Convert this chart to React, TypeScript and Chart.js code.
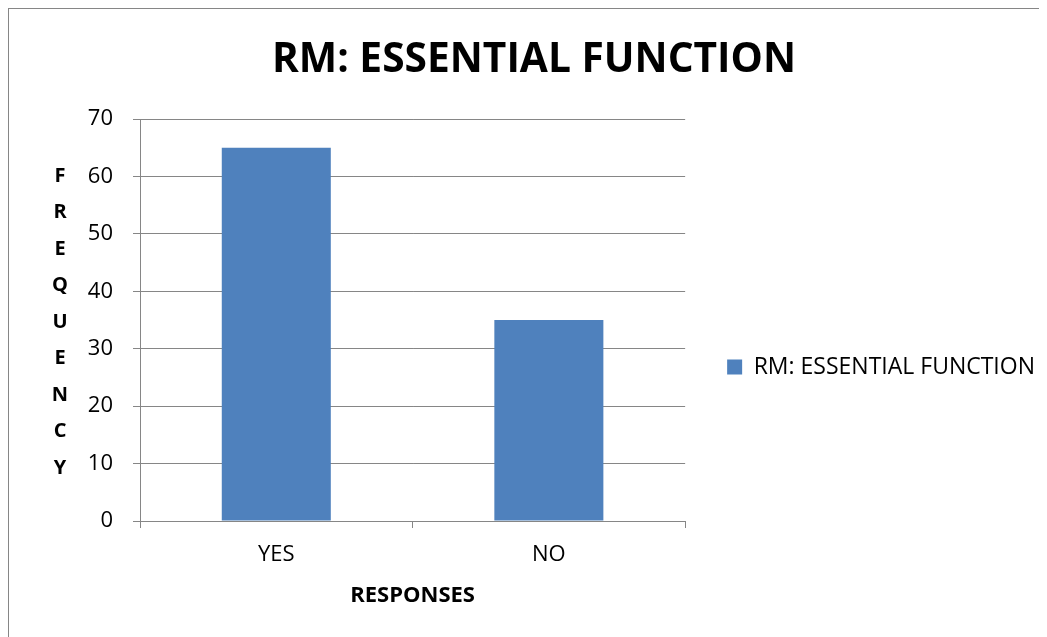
import React, { useEffect, useRef } from "react";
import { Chart, registerables } from "chart.js";

Chart.register(...registerables);

const CATEGORIES = ["YES", "NO"];
const SERIES_LABEL = "RM: ESSENTIAL FUNCTION";
const VALUES = [65, 35];
const Y_MIN = 0;
const Y_MAX = 70;
const Y_STEP = 10;
const CHART_TITLE = "RM: ESSENTIAL FUNCTION";
const X_TITLE = "RESPONSES";
const Y_TITLE = "FREQUENCY";

const BAR_COLOR = "#4F81BD";
const LINE_COLOR = "#868686";
const FONT = "'Open Sans', sans-serif";

const stackedYTitle = {
  id: "stackedYTitle",
  afterDraw(chart: any) {
    const { ctx, chartArea } = chart;
    const letters = Y_TITLE.split("");
    const step = 36.5;
    const cy = (chartArea.top + chartArea.bottom) / 2 + 2;
    const startY = cy - ((letters.length - 1) * step) / 2;
    ctx.save();
    ctx.font = `bold 20px ${FONT}`;
    ctx.fillStyle = "#000";
    ctx.textAlign = "center";
    ctx.textBaseline = "middle";
    letters.forEach((ch, i) => {
      ctx.fillText(ch, 51, startY + i * step);
    });
    ctx.restore();
  },
};

export default function App() {
  const canvasRef = useRef<HTMLCanvasElement | null>(null);

  useEffect(() => {
    document.documentElement.style.overflow = "hidden";
    const canvas = canvasRef.current;
    if (!canvas) return;
    const chart = new Chart(canvas, {
      type: "bar",
      data: {
        labels: CATEGORIES,
        datasets: [
          {
            label: SERIES_LABEL,
            data: VALUES,
            backgroundColor: BAR_COLOR,
            borderWidth: 0,
            barPercentage: 0.4,
            categoryPercentage: 1,
          },
        ],
      },
      plugins: [stackedYTitle],
      options: {
        animation: false,
        responsive: false,
        maintainAspectRatio: false,
        devicePixelRatio: 1,
        layout: { padding: { left: 14, right: 2, top: 0, bottom: 0 } },
        plugins: {
          title: {
            display: true,
            text: CHART_TITLE,
            color: "#000",
            font: { family: FONT, size: 40.7, weight: "bold" },
            padding: { top: 27, bottom: 34.2 },
          },
          legend: {
            display: true,
            position: "right",
            maxWidth: 400,
            title: {
              display: true,
              text: "",
              font: { size: 12 },
              padding: { top: 40, bottom: 33.6 },
            },
            labels: {
              boxWidth: 15,
              boxHeight: 15,
              padding: 42,
              color: "#000",
              font: { family: FONT, size: 23 },
            },
          },
          tooltip: { enabled: false },
        },
        scales: {
          x: {
            offset: true,
            grid: {
              display: true,
              drawOnChartArea: false,
              drawTicks: true,
              tickLength: 7,
              color: LINE_COLOR,
              offset: true,
            },
            border: { display: true, color: LINE_COLOR },
            ticks: {
              color: "#000",
              padding: 14,
              font: { family: FONT, size: 22 },
            },
            title: {
              display: true,
              text: X_TITLE,
              color: "#000",
              font: { family: FONT, size: 22, weight: "bold" },
              padding: { top: 0.4, bottom: 27.8 },
            },
          },
          y: {
            min: Y_MIN,
            max: Y_MAX,
            grid: {
              color: LINE_COLOR,
              tickLength: 7,
              drawTicks: true,
            },
            border: { display: true, color: LINE_COLOR },
            ticks: {
              stepSize: Y_STEP,
              color: "#000",
              padding: 20,
              font: { family: FONT, size: 22 },
            },
            afterFit(scale: any) {
              scale.width = 117;
            },
          },
        },
      },
    });
    return () => chart.destroy();
  }, []);

  return (
    <div
      style={{
        borderTop: `1px solid ${LINE_COLOR}`,
        borderLeft: `1px solid ${LINE_COLOR}`,
        width: 1038,
        height: 628,
        overflow: "hidden",
      }}
    >
      <canvas ref={canvasRef} width={1038} height={628} style={{ display: "block", width: 1038, height: 628 }} />
    </div>
  );
}
